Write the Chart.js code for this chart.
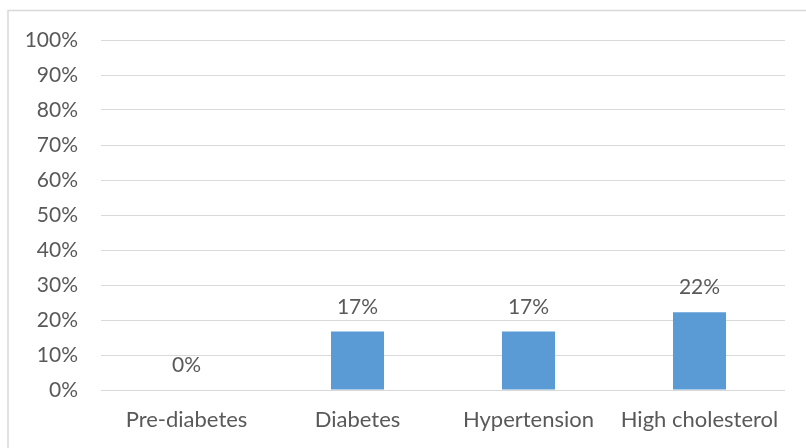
<!DOCTYPE html>
<html>
<head>
<meta charset="utf-8">
<script src="https://cdn.jsdelivr.net/npm/chart.js@4"></script>
<style>
html,body{margin:0;padding:0;background:#fff;}
#wrap{position:relative;width:806px;height:448px;}
</style>
</head>
<body>
<div id="wrap"><canvas id="c" width="806" height="448"></canvas></div>
<script>
const categories = ["Pre-diabetes", "Diabetes", "Hypertension", "High cholesterol"];
const values = [0, 16.7, 16.7, 22.2];
const valueLabels = ["0%", "17%", "17%", "22%"];
const yTickMax = 100;
const yTickStep = 10;

const FONT = "Lato, 'Open Sans', sans-serif";
const TEXT = "#595959";

const borderPlugin = {
  id: 'outerBorder',
  beforeDraw(chart) {
    const ctx = chart.ctx;
    ctx.save();
    ctx.strokeStyle = '#d9d9d9';
    ctx.lineWidth = 1.5;
    ctx.beginPath();
    ctx.moveTo(8, 460);
    ctx.lineTo(8, 10.5);
    ctx.lineTo(820, 10.5);
    ctx.stroke();
    ctx.restore();
  }
};

const labelPlugin = {
  id: 'valueLabels',
  afterDatasetsDraw(chart) {
    const ctx = chart.ctx;
    const meta = chart.getDatasetMeta(0);
    ctx.save();
    ctx.font = "21px " + FONT;
    ctx.fillStyle = TEXT;
    ctx.textAlign = 'center';
    ctx.textBaseline = 'alphabetic';
    meta.data.forEach((bar, i) => {
      ctx.fillText(valueLabels[i], bar.x, bar.y - 18);
    });
    ctx.restore();
  }
};

new Chart(document.getElementById('c'), {
  type: 'bar',
  data: {
    labels: categories,
    datasets: [{
      data: values,
      backgroundColor: '#5B9BD5',
      borderWidth: 0,
      barPercentage: 0.31,
      categoryPercentage: 1.0
    }]
  },
  options: {
    responsive: false,
    animation: false,
    devicePixelRatio: 1,
    layout: { padding: { left: 0, right: 21, top: 40, bottom: 0 } },
    plugins: { legend: { display: false }, tooltip: { enabled: false } },
    scales: {
      x: {
        grid: { display: false, drawTicks: false },
        border: { display: false },
        ticks: { color: TEXT, font: { family: FONT, size: 22 }, padding: 17, maxRotation: 0, autoSkip: false },
        afterFit(scale) { scale.height = 58; }
      },
      y: {
        min: 0, max: yTickMax,
        grid: { color: '#d9d9d9', lineWidth: 1, drawTicks: false },
        border: { display: false },
        ticks: {
          stepSize: yTickStep,
          color: TEXT,
          font: { family: FONT, size: 21 },
          padding: 23,
          callback: v => v + '%'
        },
        afterFit(scale) { scale.width = 101; }
      }
    }
  },
  plugins: [borderPlugin, labelPlugin]
});
</script>
</body>
</html>
